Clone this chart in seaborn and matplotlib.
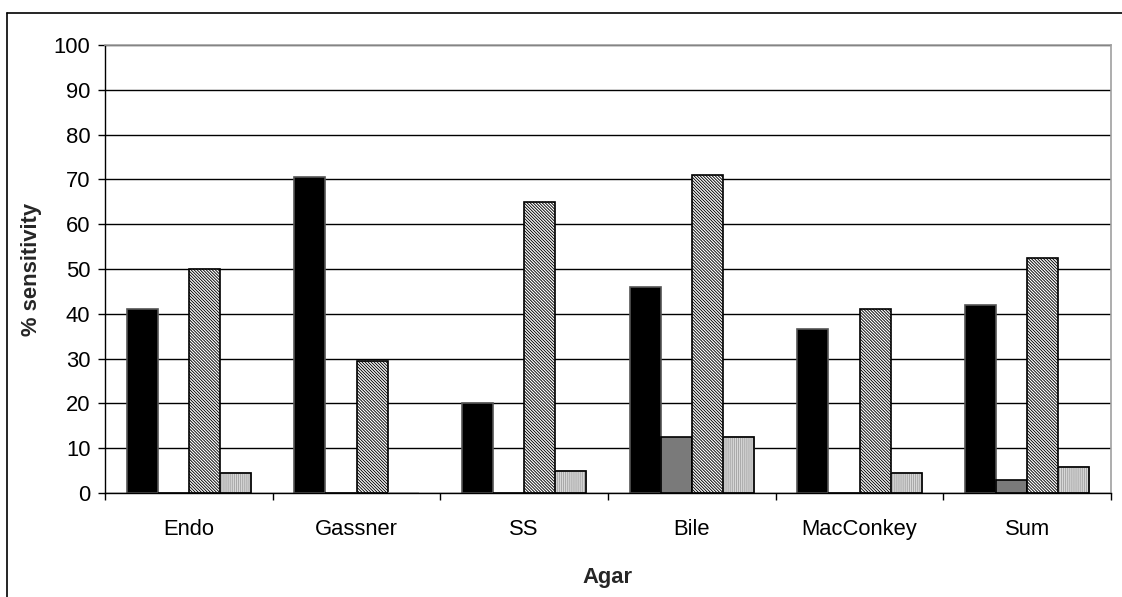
import matplotlib
matplotlib.use("Agg")
import numpy as np
import pandas as pd
import matplotlib.pyplot as plt
import seaborn as sns
from matplotlib.patches import Rectangle
from matplotlib.lines import Line2D

# Agar media and sensitivity (%) per series
agars = ["Endo", "Gassner", "SS", "Bile", "MacConkey", "Sum"]
series_names = ["Series 1", "Series 2", "Series 3", "Series 4"]
series_1 = [41.0, 70.5, 20.0, 46.0, 36.5, 42.0]
series_2 = [0.0, 0.0, 0.0, 12.5, 0.0, 2.8]
series_3 = [50.0, 29.5, 65.0, 71.0, 41.0, 52.5]
series_4 = [4.5, 0.0, 5.0, 12.5, 4.5, 5.7]
y_ticks = [0, 10, 20, 30, 40, 50, 60, 70, 80, 90, 100]

df = pd.DataFrame({
    "agar": agars * 4,
    "series": np.repeat(series_names, len(agars)),
    "value": series_1 + series_2 + series_3 + series_4,
})

sns.set_style("white")
plt.rcParams["font.family"] = ["Liberation Sans", "DejaVu Sans"]
plt.rcParams["hatch.linewidth"] = 0.65

W, H, DPI = 1122, 597, 100
fig = plt.figure(figsize=(W / DPI, H / DPI), dpi=DPI)
ax = fig.add_axes([105 / W, 1 - 493 / H, (1111 - 105) / W, (493 - 45) / H])

palette = ["#000000", "#7a7a7a", "#ffffff", "#d2d2d2"]
sns.barplot(data=df, x="agar", y="value", hue="series", order=agars,
            hue_order=series_names, palette=palette, saturation=1,
            width=0.74, gap=0, edgecolor="black", linewidth=1.2,
            legend=False, ax=ax)

# fine diagonal hatch on the third series
for p in ax.containers[2]:
    p.set_facecolor("white")
    p.set_edgecolor("black")
    p.set_hatch("\\" * 11)
    if hasattr(p, "set_hatch_linewidth"):
        p.set_hatch_linewidth(0.65)

# light grey vertical-line fill on the fourth series, outlined in black
for p in ax.containers[3]:
    p.set_facecolor("#d8d8d8")
    p.set_edgecolor("#a0a0a0")
    p.set_hatch("|" * 8)
    if hasattr(p, "set_hatch_linewidth"):
        p.set_hatch_linewidth(0.6)
    if p.get_height() > 0:
        ax.add_patch(Rectangle((p.get_x(), p.get_y()), p.get_width(), p.get_height(),
                               fill=False, edgecolor="black", linewidth=1.2,
                               zorder=p.get_zorder() + 0.1))

for p in ax.containers[0]:
    p.set_edgecolor("#555555")

ax.set_ylim(0, 100)
ax.set_xlim(-0.5, len(agars) - 0.5)
ax.set_yticks(y_ticks)
ax.yaxis.grid(True, color="black", linewidth=1.0)
ax.xaxis.grid(False)
ax.set_axisbelow(True)

ax.set_xticks(np.arange(-0.5, len(agars), 1.0), minor=True)
ax.tick_params(axis="x", which="major", length=0, pad=19, labelsize=15.8, colors="black")
ax.tick_params(axis="x", which="minor", length=5, width=1, direction="out", color="black", bottom=True)
ax.tick_params(axis="y", length=5, width=1, direction="out", pad=5.5, labelsize=15.8,
               colors="black", left=True)

for side in ("left", "bottom"):
    ax.spines[side].set_color("black")
    ax.spines[side].set_linewidth(1.0)
for side in ("top", "right"):
    ax.spines[side].set_color("#a0a0a0")
    ax.spines[side].set_linewidth(1.2)

ax.set_xlabel("Agar", fontsize=15.8, fontweight="bold", va="center")
ax.set_ylabel("% sensitivity", fontsize=15.8, fontweight="bold", va="center")
ax.xaxis.set_label_coords(0.5, -(578 - 493) / (493 - 45))
ax.yaxis.set_label_coords(-(105 - 32) / (1111 - 105), 0.5)

# outer chart frame (top and left edges)
fig.add_artist(Line2D([7 / W, 7 / W], [0, 1 - 13 / H], transform=fig.transFigure,
                      color="black", linewidth=1.2))
fig.add_artist(Line2D([7 / W, 1], [1 - 13 / H, 1 - 13 / H], transform=fig.transFigure,
                      color="black", linewidth=1.2))

fig.savefig("out.png", dpi=DPI)
